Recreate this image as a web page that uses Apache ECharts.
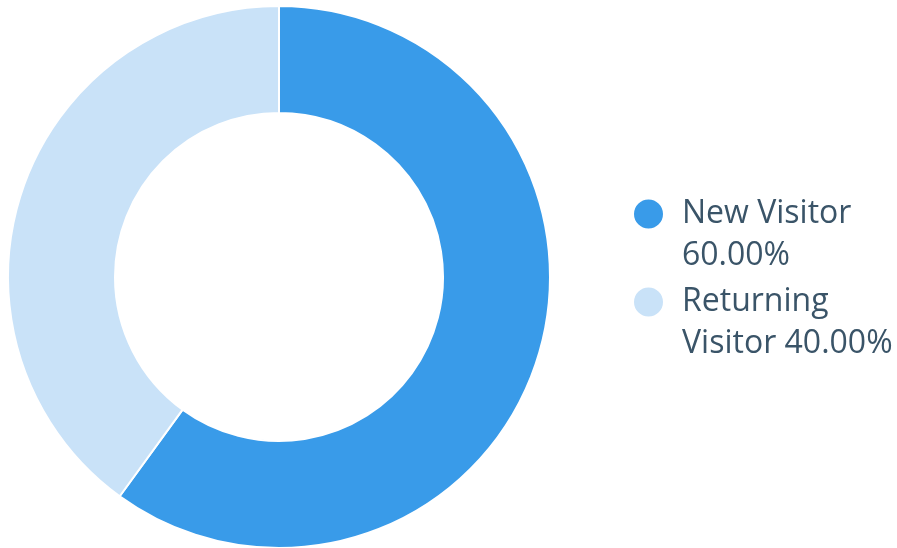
<!DOCTYPE html>
<html>
<head>
<meta charset="utf-8">
<script src="https://cdn.jsdelivr.net/npm/echarts@6/dist/echarts.min.js"></script>
<style>
html,body{margin:0;padding:0;background:#fff;}
#main{width:897px;height:548px;}
</style>
</head>
<body>
<div id="main"></div>
<script>
var categories = ['New Visitor', 'Returning Visitor'];
var values = [60, 40];
var legendLabels = {
  'New Visitor': '\nNew Visitor\n60.00%',
  'Returning Visitor': '\nReturning\nVisitor 40.00%'
};
var colors = ['#399be9', '#c9e2f8'];

var chart = echarts.init(document.getElementById('main'));
chart.setOption({
  animation: false,
  color: colors,
  legend: {
    orient: 'vertical',
    left: 627,
    top: 146,
    itemWidth: 31,
    itemHeight: 31,
    itemGap: -38,
    icon: 'circle',
    data: categories,
    formatter: function (name) { return legendLabels[name]; },
    textStyle: {
      fontFamily: 'Open Sans',
      fontSize: 32,
      lineHeight: 42,
      color: '#3a5468',
      padding: [0, 0, 0, 13]
    }
  },
  series: [{
    type: 'pie',
    center: [279, 277],
    radius: [164, 271],
    startAngle: 90,
    clockwise: true,
    label: { show: false },
    labelLine: { show: false },
    itemStyle: { borderColor: '#ffffff', borderWidth: 2 },
    emphasis: { disabled: true },
    data: categories.map(function (c, i) { return { name: c, value: values[i] }; })
  }]
});
</script>
</body>
</html>
